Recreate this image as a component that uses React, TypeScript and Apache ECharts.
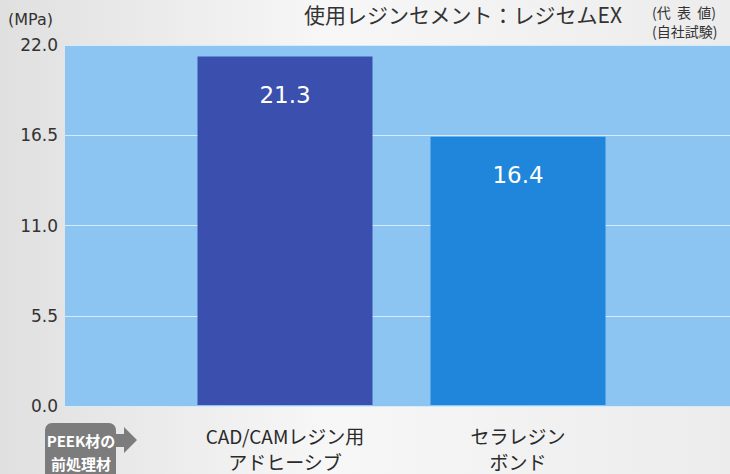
import React, { useEffect, useRef } from "react";
import * as echarts from "echarts";

const categories = ["CAD/CAMレジン用\nアドヒーシブ", "セラレジン\nボンド"];
const values = [21.3, 16.4];
const barColors = ["#3a4fae", "#1f86db"];
const yTicks = [0, 5.5, 11, 16.5, 22];
const titleText = "使用レジンセメント：レジセムEX";
const noteLines = ["(代  表  値)", "(自社試験)"];
const unitText = "(MPa)";
const boxLines = ["PEEK材の", "前処理材"];

const FONT = "'Noto Sans CJK JP', 'Noto Sans', sans-serif";
const NUMFONT = "'DejaVu Sans', sans-serif";

export default function App() {
  const ref = useRef<HTMLDivElement>(null);
  useEffect(() => {
    document.body.style.margin = "0";
    const chart = echarts.init(ref.current!, undefined, { renderer: "svg" });
    const yMax = yTicks[yTicks.length - 1];
    const step = yTicks[1] - yTicks[0];
    chart.setOption({
      animation: false,
      backgroundColor: {
        type: "linear", x: 0, y: 0, x2: 1, y2: 0,
        colorStops: [
          { offset: 0, color: "#e0e0e0" },
          { offset: 0.45, color: "#f7f7f7" },
          { offset: 1, color: "#ececec" },
        ],
      },
      textStyle: { fontFamily: FONT },
      grid: [
        { left: 65, right: 0, top: 45, bottom: 68, show: true, backgroundColor: "#8cc4f2", borderWidth: 0 },
        { left: 168.5, width: 466, top: 45, bottom: 68 },
      ],
      xAxis: [
        { type: "value", gridIndex: 0, show: false, min: 0, max: 1 },
        {
          type: "category",
          gridIndex: 1,
          data: categories,
          axisLine: { show: false },
          axisTick: { show: false },
          axisLabel: {
            margin: 17,
            fontSize: 19,
            lineHeight: 26,
            color: "#2a2a2a",
            fontFamily: FONT,
          },
        },
      ],
      yAxis: [
        {
          type: "value",
          gridIndex: 0,
          min: 0,
          max: yMax,
          interval: step,
          axisLine: { show: false },
          axisTick: { show: false },
          axisLabel: {
            fontSize: 17,
            color: "#333",
            margin: 7,
            fontFamily: NUMFONT,
            formatter: (v: number) => v.toFixed(1),
          },
          splitLine: { lineStyle: { color: "#d4ebfc", width: 1.2 } },
        },
        { type: "value", gridIndex: 1, min: 0, max: yMax, show: false },
      ],
      series: [
        {
          type: "bar",
          xAxisIndex: 1,
          yAxisIndex: 1,
          barWidth: 175,
          data: values.map((v, i) => ({ value: v, itemStyle: { color: barColors[i] } })),
          label: {
            show: true,
            position: "insideTop",
            distance: 27,
            color: "#ffffff",
            fontSize: 23,
            fontFamily: NUMFONT,
            formatter: (p: any) => p.value.toFixed(1),
          },
        },
      ],
      graphic: [
        {
          type: "text",
          x: 304,
          y: 14,
          style: {
            text: titleText, fontSize: 21, fill: "#333", fontFamily: FONT,
            align: "left", verticalAlign: "middle",
          },
        },
        {
          type: "text",
          x: 652,
          y: 12,
          style: {
            text: noteLines[0], fontSize: 14, fill: "#333", fontFamily: FONT,
            align: "left", verticalAlign: "middle",
          },
        },
        {
          type: "text",
          x: 652,
          y: 31,
          style: {
            text: noteLines[1], fontSize: 14, fill: "#333", fontFamily: FONT,
            align: "left", verticalAlign: "middle",
          },
        },
        {
          type: "text",
          x: 8,
          y: 19,
          style: {
            text: unitText, fontSize: 16, fill: "#333", fontFamily: NUMFONT,
            align: "left", verticalAlign: "middle",
          },
        },
        {
          type: "rect",
          shape: { x: 45, y: 423, width: 71, height: 60, r: 7 },
          style: { fill: "#7c7c7c" },
        },
        {
          type: "polygon",
          shape: {
            points: [[115, 434], [124, 434], [124, 427], [137, 440], [124, 453], [124, 447], [115, 447]],
          },
          style: { fill: "#7c7c7c" },
        },
        {
          type: "text",
          x: 81,
          y: 440,
          style: {
            text: boxLines[0], fontSize: 15, fontWeight: "bold", fill: "#fff",
            align: "center", verticalAlign: "middle", fontFamily: FONT,
          },
        },
        {
          type: "text",
          x: 81,
          y: 463,
          style: {
            text: boxLines[1], fontSize: 15, fontWeight: "bold", fill: "#fff",
            align: "center", verticalAlign: "middle", fontFamily: FONT,
          },
        },
      ],
    });
    return () => chart.dispose();
  }, []);
  return <div ref={ref} style={{ width: 730, height: 474 }} />;
}
